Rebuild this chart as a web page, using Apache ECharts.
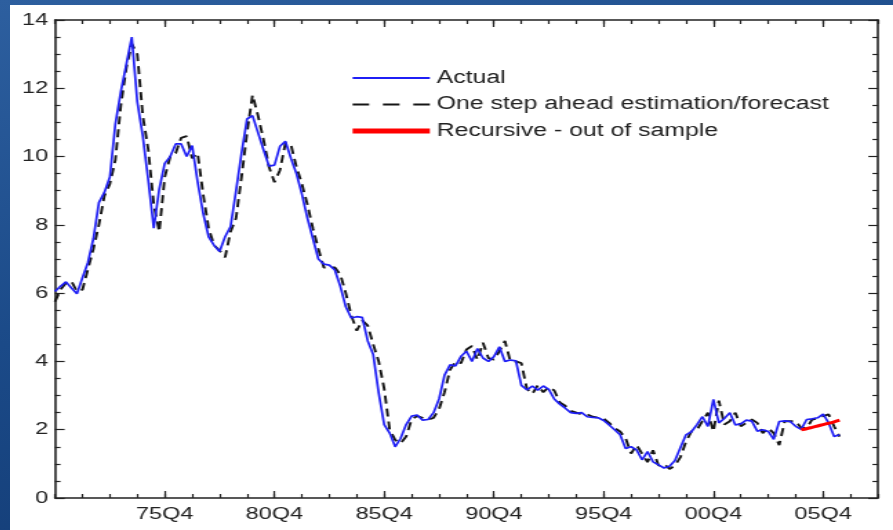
<!DOCTYPE html>
<html>
<head>
<meta charset="utf-8">
<script src="https://cdn.jsdelivr.net/npm/echarts@6/dist/echarts.min.js"></script>
<style>
  html, body {
    margin: 0; padding: 0; width: 893px; height: 530px; overflow: hidden;
    background: linear-gradient(165deg, #2d5f9f 0%, #1b4a88 45%, #0f356c 100%);
  }
  #panel {
    position: absolute; left: 10px; top: 5px; width: 883px; height: 525px;
    background: #fff; overflow: hidden;
  }
  /* the chart is laid out narrow and widened horizontally */
  #chart { width: 640px; height: 525px; transform: scaleX(1.3797); transform-origin: 0 0; }
</style>
</head>
<body>
<div id="panel"><div id="chart"></div></div>
<script>
// Quarterly axis: 1970Q4 .. 2008Q2
const startYear = 1970;
const startQuarter = 4;
const quarterCount = 151;

const tickLabels = ['75Q4', '80Q4', '85Q4', '90Q4', '95Q4', '00Q4', '05Q4'];

// Inflation, actual (70Q4 .. 06Q3)
const actual = [
  6.05, 6.2, 6.33, 6.15, 5.98, 6.45, 6.9, 7.6, 8.65, 8.95,
  9.4, 10.95, 11.9, 12.7, 13.5, 11.6, 10.6, 9.3, 7.9, 9.05,
  9.8, 10.0, 10.37, 10.37, 10.0, 10.32, 9.25, 8.34, 7.65, 7.4,
  7.22, 7.65, 7.95, 9.0, 10.1, 11.1, 11.2, 10.7, 10.2, 9.72,
  9.75, 10.3, 10.45, 9.95, 9.5, 8.9, 8.2, 7.6, 7.0, 6.85,
  6.82, 6.68, 6.2, 5.6, 5.27, 5.31, 5.29, 4.6, 4.2, 3.07,
  2.15, 1.9, 1.5, 1.75, 2.15, 2.4, 2.43, 2.28, 2.3, 2.5,
  2.9, 3.6, 3.9, 3.87, 4.15, 4.3, 4.0, 4.38, 4.1, 4.0,
  4.14, 4.43, 4.0, 4.04, 4.02, 3.3, 3.17, 3.28, 3.16, 3.28,
  3.18, 2.9, 2.75, 2.63, 2.5, 2.48, 2.5, 2.38, 2.36, 2.35,
  2.27, 2.14, 2.0, 1.85, 1.45, 1.5, 1.41, 1.12, 1.36, 1.06,
  0.97, 0.88, 0.93, 1.1, 1.48, 1.85, 1.94, 2.15, 2.38, 2.1,
  2.89, 2.2, 2.33, 2.5, 2.14, 2.17, 2.28, 2.25, 1.96, 2.0,
  1.95, 1.72, 2.24, 2.26, 2.24, 2.1, 2.01, 2.3, 2.32, 2.35,
  2.46, 2.2, 1.8, 1.85
];

// One step ahead estimation / forecast (70Q4 .. 06Q3)
const forecast = [
  5.75, 6.1, 6.3, 6.35, 6.05, 6.1, 6.7, 7.3, 8.0, 8.85,
  9.2, 9.9, 11.5, 12.6, 13.3, 13.0, 11.2, 10.2, 8.6, 7.8,
  9.4, 10.0, 10.1, 10.55, 10.6, 9.95, 10.1, 8.9, 7.9, 7.4,
  7.25, 7.05, 7.8, 8.2, 9.4, 10.7, 11.8, 11.2, 10.5, 9.7,
  9.25, 9.6, 10.4, 10.35, 9.7, 9.2, 8.6, 7.9, 7.3, 6.75,
  6.75, 6.75, 6.55, 6.0, 5.35, 4.9, 5.2, 5.05, 4.5, 4.0,
  3.2, 2.0, 1.7, 1.6, 1.8, 2.3, 2.4, 2.35, 2.3, 2.35,
  2.6, 3.1, 3.75, 4.0, 3.95, 4.35, 4.45, 4.05, 4.55, 4.1,
  4.05, 4.3, 4.6, 4.0, 4.0, 3.95, 3.2, 3.05, 3.3, 3.1,
  3.25, 3.15, 2.8, 2.7, 2.55, 2.5, 2.45, 2.45, 2.38, 2.35,
  2.33, 2.2, 2.05, 1.95, 1.75, 1.3, 1.55, 1.3, 1.05, 1.4,
  0.95, 1.0, 0.85, 0.95, 1.2, 1.65, 1.95, 2.0, 2.25, 2.5,
  1.95, 2.85, 2.15, 2.25, 2.5, 2.1, 2.2, 2.3, 2.2, 1.9,
  2.05, 1.9, 1.55, 2.25, 2.25, 2.25, 2.05, 2.05, 2.3, 2.33,
  2.4, 2.45, 2.1, 1.8
];

// Recursive out-of-sample path (04Q4 .. 06Q3)
const recursiveStart = '04Q4';
const recursive = [2.0, 2.03, 2.07, 2.11, 2.15, 2.19, 2.23, 2.28];

const names = {
  actual: 'Actual',
  forecast: 'One step ahead estimation/forecast',
  recursive: 'Recursive - out of sample'
};

const quarters = [];
for (let k = 0; k < quarterCount; k++) {
  const n = startQuarter - 1 + k;
  const yy = (startYear + Math.floor(n / 4)) % 100;
  quarters.push(String(yy).padStart(2, '0') + 'Q' + (n % 4 + 1));
}
const recIdx = quarters.indexOf(recursiveStart);
const recursiveData = recursive.map((v, k) => [quarters[recIdx + k], v]);

const ink = '#222';
const font = '"Liberation Sans", Arial, sans-serif';
const frame = { show: true, onZero: false, lineStyle: { color: ink, width: 1.6 } };
const tickLine = { color: ink, width: 1.2 };
const isMajor = (i, v) => tickLabels.includes(v);

function xAxis(position, major, labels) {
  return {
    type: 'category', data: quarters, boundaryGap: false, position,
    axisLine: major ? { show: false, onZero: false } : frame,
    axisTick: {
      show: true, inside: true, length: major ? 7 : 4, lineStyle: tickLine,
      interval: major ? isMajor : (i) => i % 5 === 0
    },
    axisLabel: labels
      ? { show: true, interval: isMajor, margin: 8, fontSize: 17, color: ink, fontFamily: font }
      : { show: false },
    splitLine: { show: false }
  };
}

function yAxis(position, labels) {
  return {
    type: 'value', min: 0, max: 14, interval: 2, position,
    axisLine: frame,
    axisTick: { show: true, inside: true, length: 7, lineStyle: tickLine },
    minorTick: { show: true, splitNumber: 4, length: 4, lineStyle: tickLine },
    axisLabel: labels
      ? { show: true, margin: 5, fontSize: 17, color: ink, fontFamily: font }
      : { show: false },
    splitLine: { show: false },
    minorSplitLine: { show: false }
  };
}

const chart = echarts.init(document.getElementById('chart'), null, { renderer: 'canvas' });
chart.setOption({
  animation: false,
  backgroundColor: '#ffffff',
  grid: { left: 32.6, right: 10.9, top: 15, bottom: 32, containLabel: false, outerBoundsMode: 'none' },
  xAxis: [
    xAxis('bottom', false, false),
    xAxis('bottom', true, true),
    xAxis('top', false, false),
    xAxis('top', true, false)
  ],
  yAxis: [yAxis('left', true), yAxis('right', false)],
  legend: {
    orient: 'vertical', left: 245.8, top: 64, padding: 0,
    itemWidth: 56, itemHeight: 14, itemGap: 8.5,
    itemStyle: { opacity: 0 },
    textStyle: { fontSize: 18, color: ink, fontFamily: font },
    data: [
      { name: names.actual, itemStyle: { opacity: 0 } },
      { name: names.forecast, itemStyle: { opacity: 0 }, lineStyle: { type: [12, 10], width: 1.8 } },
      { name: names.recursive, itemStyle: { opacity: 0 }, lineStyle: { width: 5 } }
    ]
  },
  series: [
    {
      name: names.forecast, type: 'line', data: forecast, symbol: 'none',
      lineStyle: { color: '#151515', width: 1.9, type: [8, 5] },
      itemStyle: { color: '#151515' }, z: 2
    },
    {
      name: names.actual, type: 'line', data: actual, symbol: 'none',
      lineStyle: { color: '#1f1ff5', width: 1.7 },
      itemStyle: { color: '#1f1ff5' }, z: 3
    },
    {
      name: names.recursive, type: 'line', data: recursiveData, symbol: 'none', smooth: 0.3,
      lineStyle: { color: '#ff0000', width: 3 },
      itemStyle: { color: '#ff0000' }, z: 4
    }
  ]
});
</script>
</body>
</html>
